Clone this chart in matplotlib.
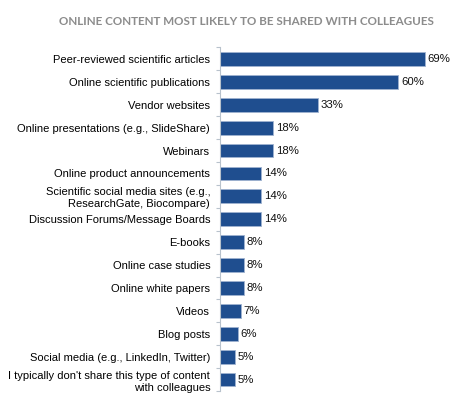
import numpy as np
import matplotlib.pyplot as plt

categories = [
    "Peer-reviewed scientific articles",
    "Online scientific publications",
    "Vendor websites",
    "Online presentations (e.g., SlideShare)",
    "Webinars",
    "Online product announcements",
    "Scientific social media sites (e.g.,\nResearchGate, Biocompare)",
    "Discussion Forums/Message Boards",
    "E-books",
    "Online case studies",
    "Online white papers",
    "Videos",
    "Blog posts",
    "Social media (e.g., LinkedIn, Twitter)",
    "I typically don't share this type of content\nwith colleagues",
]
values = [69, 60, 33, 18, 18, 14, 14, 14, 8, 8, 8, 7, 6, 5, 5]

bar_color = '#1f4e8f'
axis_color = '#b8c2cc'

fig = plt.figure(figsize=(4.77, 3.99), dpi=100)
ax = fig.add_axes([0.461, 0.020, 0.498, 0.861])

y = np.arange(len(categories))
ax.barh(y, values, height=0.6, color=bar_color, edgecolor='#9fb3d0', linewidth=0.6)

for yi, v in zip(y, values):
    ax.text(v + 1.0, yi, f'{v}%', va='center', ha='left', fontsize=8.2,
            family='Liberation Sans', color='#111111')

ax.set_ylim(len(categories) - 0.5, -0.5)
ax.set_xlim(0, 80)
ax.set_yticks(y)
ax.set_yticklabels(categories, fontsize=8.0, family='Liberation Sans', color='#000000',
                   linespacing=1.25)
ax.tick_params(axis='y', which='major', length=0, pad=7)
ax.set_yticks(np.arange(-0.5, len(categories), 1), minor=True)
ax.tick_params(axis='y', which='minor', length=3, color=axis_color, width=0.8)
ax.set_xticks([])

for s in ['top', 'right', 'bottom']:
    ax.spines[s].set_visible(False)
ax.spines['left'].set_color(axis_color)
ax.spines['left'].set_linewidth(0.8)

fig.text(0.517, 0.947, 'ONLINE CONTENT MOST LIKELY TO BE SHARED WITH COLLEAGUES',
         ha='center', va='center', fontsize=8.35, fontweight='bold', color='#8c8c8c',
         family='Lato')

fig.savefig('out.png', dpi=100)
